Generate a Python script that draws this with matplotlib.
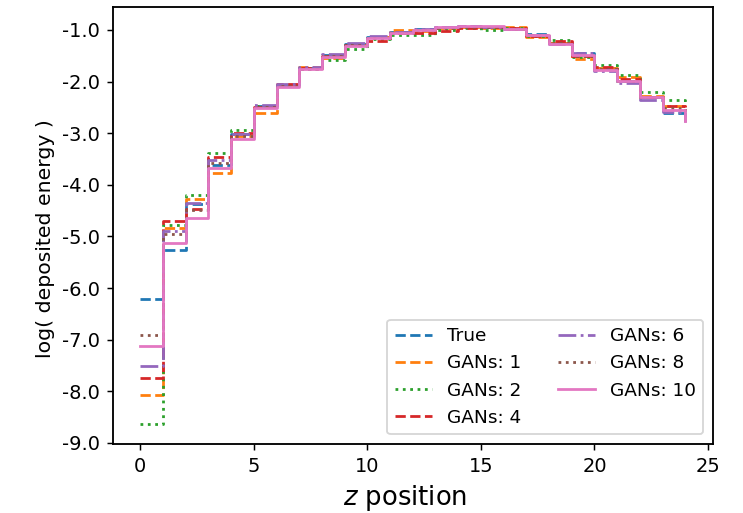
"""
Longitudinal shower profile: true vs. GAN-generated deposited energy.
"""

import matplotlib

matplotlib.use("Agg")
import matplotlib.pyplot as plt
from matplotlib.ticker import FormatStrFormatter, MultipleLocator

# ── Data (log deposited energy per z bin) ─────────────────────
z = list(range(25))

true_vals = [-6.21, -5.26, -4.38, -3.62, -3.01, -2.47, -2.06, -1.73, -1.48, -1.28,
             -1.13, -1.03, -0.98, -0.94, -0.93, -0.94, -0.98, -1.08, -1.25, -1.45,
             -1.74, -1.98, -2.30, -2.60, -2.72]
gans_1 = [-8.07, -4.83, -4.28, -3.78, -3.05, -2.61, -2.08, -1.72, -1.55, -1.30,
          -1.13, -1.00, -1.01, -0.96, -0.95, -0.96, -0.94, -1.14, -1.25, -1.57,
          -1.73, -1.92, -2.28, -2.47, -2.50]
gans_2 = [-8.63, -4.78, -4.20, -3.38, -2.94, -2.48, -2.07, -1.75, -1.58, -1.36,
          -1.18, -1.10, -1.10, -1.00, -0.97, -1.00, -0.97, -1.12, -1.20, -1.52,
          -1.68, -1.88, -2.20, -2.36, -2.39]
gans_4 = [-7.74, -4.70, -4.47, -3.46, -2.99, -2.50, -2.04, -1.74, -1.50, -1.29,
          -1.21, -1.06, -1.05, -1.01, -0.97, -0.95, -0.97, -1.11, -1.21, -1.50,
          -1.71, -1.94, -2.30, -2.47, -2.50]
gans_6 = [-7.51, -4.90, -4.35, -3.52, -3.01, -2.46, -2.04, -1.72, -1.47, -1.26,
          -1.12, -1.04, -0.98, -0.95, -0.93, -0.94, -0.99, -1.09, -1.28, -1.45,
          -1.79, -2.02, -2.36, -2.58, -2.78]
gans_8 = [-6.92, -4.96, -4.49, -3.57, -3.05, -2.50, -2.08, -1.75, -1.50, -1.30,
          -1.15, -1.05, -1.00, -0.96, -0.94, -0.95, -0.98, -1.10, -1.26, -1.50,
          -1.75, -1.98, -2.30, -2.52, -2.65]
gans_10 = [-7.12, -5.12, -4.64, -3.67, -3.12, -2.52, -2.10, -1.76, -1.52, -1.31,
           -1.15, -1.05, -1.00, -0.95, -0.93, -0.93, -0.99, -1.10, -1.28, -1.49,
           -1.78, -1.99, -2.30, -2.56, -2.76]

series = [
    ("True", true_vals, "C0", "--"),
    ("GANs: 1", gans_1, "C1", "--"),
    ("GANs: 2", gans_2, "C2", ":"),
    ("GANs: 4", gans_4, "C3", "--"),
    ("GANs: 6", gans_6, "C4", "-."),
    ("GANs: 8", gans_8, "C5", ":"),
    ("GANs: 10", gans_10, "C6", "-"),
]

DPI = 133.3
plt.rcParams.update({"xtick.labelsize": 10.5, "ytick.labelsize": 10.5})

fig = plt.figure(figsize=(743 / DPI, 513 / DPI), dpi=DPI)
ax = fig.add_axes([0.1521, 0.1353, 0.8069, 0.852])

for label, vals, color, ls in series:
    ax.step(z, vals, where="post", color=color, linestyle=ls, label=label)

ax.xaxis.set_major_locator(MultipleLocator(5))
ax.yaxis.set_major_locator(MultipleLocator(1.0))
ax.yaxis.set_major_formatter(FormatStrFormatter("%.1f"))
for side in ax.spines.values():
    side.set_linewidth(1.0)

ax.set_xlabel("$z$ position", fontsize=14)
ax.set_ylabel("log( deposited energy )", fontsize=11)
ax.xaxis.label.set_x(0.487)
ax.yaxis.label.set_y(0.47)
ax.legend(loc="lower right", ncol=2)

fig.savefig("out.png", dpi=DPI)
plt.close(fig)
